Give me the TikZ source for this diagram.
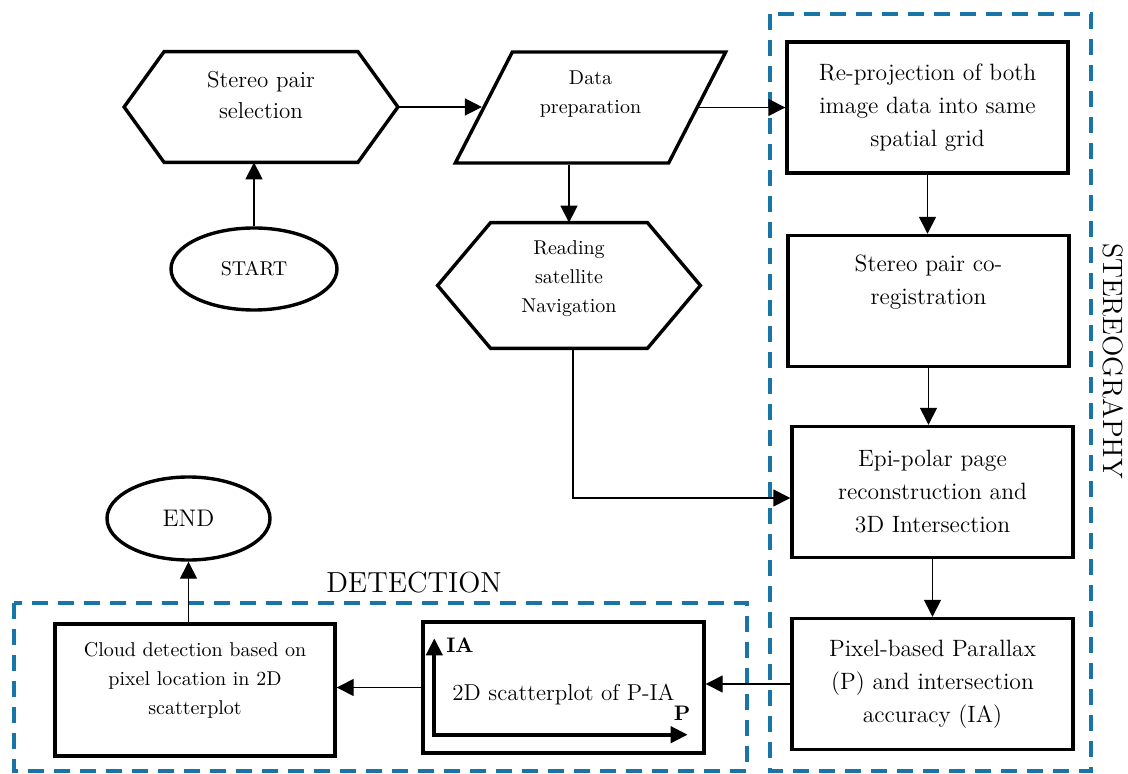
\documentclass[tikz,border=0pt]{standalone}
\usepackage{tikz}
\usetikzlibrary{shapes.geometric,arrows.meta}
\definecolor{dashblue}{RGB}{25,117,168}

\begin{document}
\begin{tikzpicture}[x=0.5pt,y=-0.5pt,
  font=\fontsize{10}{14.5}\selectfont,
  outline/.style={line width=1.7pt,line join=miter},
  stepbox/.style={draw,outline,minimum width=140.5pt,minimum height=65.5pt,align=center,inner sep=2pt},
  hexa/.style={minimum width=#1,minimum height=55pt,align=center},
  term/.style={draw,outline,ellipse,align=center,inner sep=0pt},
  arr/.style={-{Triangle[length=8.5pt,width=8.5pt]},line width=0.7pt},
  axis/.style={{Triangle[length=8.5pt,width=8pt]}-{Triangle[length=8.5pt,width=8pt]},line width=2pt},
  group/.style={dashblue,line width=2pt,dash pattern=on 8pt off 5pt}]
  \useasboundingbox (0,0) rectangle (1128,774);

  % groups
  \draw[group] (770,14) rectangle (1091,771);
  \draw[group] (14,603) rectangle (747,771);
  \node[font=\fontsize{14}{16}\selectfont,rotate=-90] (stlab) at (1113,361) {STEREOGRAPHY};
  \node[font=\fontsize{14.5}{16}\selectfont] (detlab) at (414,583) {DETECTION};

  % left part
  \node[hexa=136.5pt,font=\fontsize{11.5}{15.5}\selectfont] (sel) at (261,107) {Stereo pair\\selection\\[-8.5pt]\strut};
  \draw[outline] (sel.west) -- ([xshift=20pt]sel.north west) -- ([xshift=-20pt]sel.north east)
    -- (sel.east) -- ([xshift=-20pt]sel.south east) -- ([xshift=20pt]sel.south west) -- cycle;
  \node[draw,outline,trapezium,trapezium left angle=64,trapezium right angle=116,trapezium stretches,
    minimum width=136.5pt,minimum height=55.5pt,align=center] (prep) at (590.5,107.5) {Data\\preparation\\[-4pt]\strut};
  \node[term,minimum width=83pt,minimum height=41pt] (start) at (254,269) {START};
  \node[hexa=131pt,minimum height=62.5pt] (nav) at (569,285.5) {Reading\\satellite\\Navigation\\[-9.5pt]\strut};
  \draw[outline] (nav.west) -- ([xshift=26.5pt]nav.north west) -- ([xshift=-26.5pt]nav.north east)
    -- (nav.east) -- ([xshift=-26.5pt]nav.south east) -- ([xshift=26.5pt]nav.south west) -- cycle;
  \node[term,minimum width=81.5pt,minimum height=41.5pt,font=\fontsize{12}{14}\selectfont] (finish) at (188.5,518.5) {END};

  % stereography
  \node[stepbox,font=\fontsize{11.8}{16.5}\selectfont] (proj) at (927.5,107.5) {Re-projection of both\\image data into same\\spatial grid};
  \node[stepbox,font=\fontsize{11.8}{16.5}\selectfont] (coreg) at (928.5,301) {Stereo pair co-\\registration\\\strut};
  \node[stepbox,font=\fontsize{11.8}{16.5}\selectfont] (epi) at (932.5,492) {Epi-polar page\\reconstruction and\\3D Intersection};
  \node[stepbox,font=\fontsize{11.8}{16.5}\selectfont] (para) at (932.5,684) {Pixel-based Parallax\\(P) and intersection\\accuracy (IA)};

  % detection
  \node[stepbox,font=\fontsize{11.5}{14}\selectfont] (scat) at (563.5,687.5) {\raisebox{-3.75pt}[\height][\depth]{2D scatterplot of P-IA}};
  \coordinate (iatip) at ([xshift=6.5pt,yshift=-9pt]scat.north west);
  \coordinate (ptip) at ([xshift=-9pt,yshift=10pt]scat.south east);
  \draw[axis] (iatip) |- (ptip);
  \node[font=\bfseries\fontsize{10.5}{12}\selectfont] (ialab) at (460,645) {IA};
  \node[font=\bfseries\fontsize{10.5}{12}\selectfont] (plab) at (682,713) {P};
  \node[stepbox,minimum width=140pt,minimum height=66pt] (cloud) at (195,690) {Cloud detection based on\\pixel location in 2D\\scatterplot\\[-7pt]\strut};

  % connectors
  \draw[arr] (start) -- (start |- sel.south);
  \draw[arr] (sel.east) -- (sel.east -| prep.west);
  \draw[arr] (prep.east) -- (prep.east -| proj.west);
  \draw[arr] (prep.south -| nav) -- (nav.north);
  \draw[arr] ([xshift=2pt]nav.south) |- ([yshift=-3pt]epi.west);
  \draw[arr] (proj) -- (proj |- coreg.north);
  \draw[arr] (coreg) -- (coreg |- epi.north);
  \draw[arr] (epi) -- (epi |- para.north);
  \draw[arr] (para.west) -- (para.west -| scat.east);
  \draw[arr] (scat.west) -- (scat.west -| cloud.east);
  \draw[arr] (cloud.north -| finish) -- (finish.south);
\end{tikzpicture}
\end{document}
